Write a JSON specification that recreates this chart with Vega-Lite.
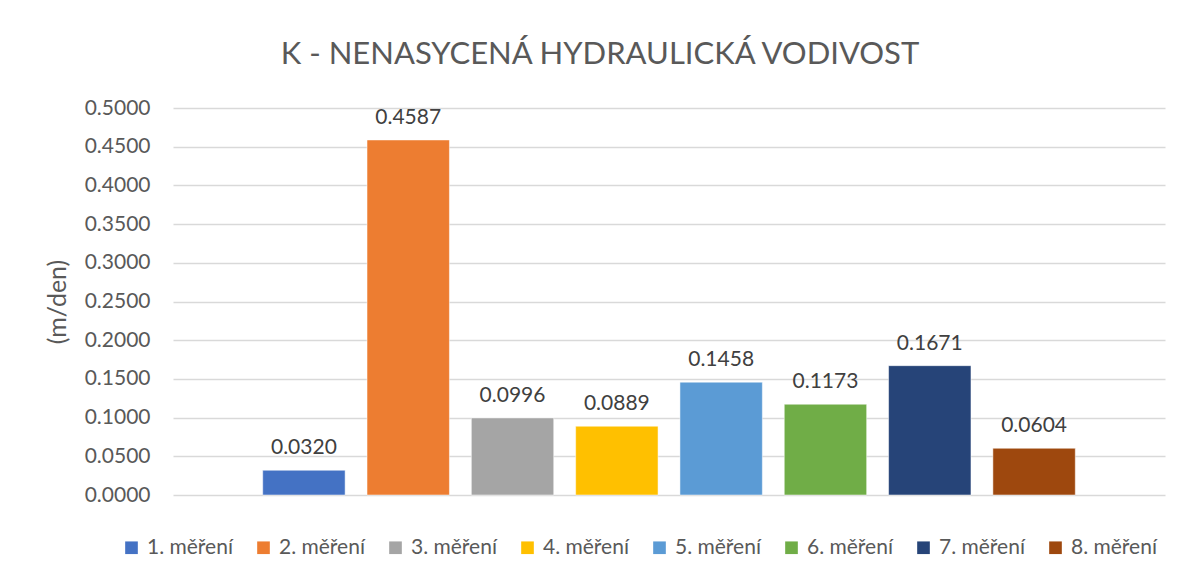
{
  "$schema": "https://vega.github.io/schema/vega-lite/v6.json",
  "autosize": {"type": "none"},
  "width": 992,
  "height": 387,
  "padding": {"left": 173, "top": 108, "right": 21, "bottom": 86},
  "background": "white",
  "title": {
    "text": "K - NENASYCENÁ HYDRAULICKÁ VODIVOST",
    "font": "Lato",
    "fontSize": 31,
    "fontWeight": "normal",
    "color": "#595959",
    "anchor": "middle",
    "dx": -69,
    "offset": 26
  },
  "data": {
    "values": [
      {"serie": "1. měření", "k": 0.0320},
      {"serie": "2. měření", "k": 0.4587},
      {"serie": "3. měření", "k": 0.0996},
      {"serie": "4. měření", "k": 0.0889},
      {"serie": "5. měření", "k": 0.1458},
      {"serie": "6. měření", "k": 0.1173},
      {"serie": "7. měření", "k": 0.1671},
      {"serie": "8. měření", "k": 0.0604}
    ]
  },
  "encoding": {
    "x": {
      "field": "serie",
      "type": "nominal",
      "sort": null,
      "axis": null,
      "scale": {"paddingInner": 0.21, "paddingOuter": 0.86}
    },
    "y": {
      "field": "k",
      "type": "quantitative",
      "scale": {"domain": [0, 0.5], "nice": false},
      "axis": {
        "title": "(m/den)",
        "values": [0, 0.05, 0.1, 0.15, 0.2, 0.25, 0.3, 0.35, 0.4, 0.45, 0.5],
        "format": ".4f",
        "domain": false,
        "ticks": false,
        "labelFont": "Lato",
        "labelFontSize": 21,
        "labelColor": "#595959",
        "labelPadding": 23,
        "titleFont": "Lato",
        "titleFontSize": 25,
        "titleFontWeight": "normal",
        "titleColor": "#595959",
        "titlePadding": 14,
        "gridColor": "#d9d9d9",
        "gridWidth": 1.3
      }
    }
  },
  "layer": [
    {
      "mark": {"type": "bar", "stroke": "white", "strokeWidth": 0.5},
      "encoding": {
        "color": {
          "field": "serie",
          "type": "nominal",
          "sort": null,
          "scale": {
            "range": ["#4472C4", "#ED7D31", "#A5A5A5", "#FFC000", "#5B9BD5", "#70AD47", "#264478", "#9E480E"]
          },
          "legend": {
            "title": null,
            "orient": "none",
            "direction": "horizontal",
            "legendX": -52,
            "legendY": 429,
            "symbolType": "square",
            "symbolSize": 160,
            "symbolStrokeWidth": 0,
            "symbolOpacity": 1,
            "labelFont": "Lato",
            "labelFontSize": 21,
            "labelColor": "#595959",
            "labelOffset": 5,
            "columnPadding": 20
          }
        }
      }
    },
    {
      "mark": {
        "type": "text",
        "baseline": "alphabetic",
        "dy": -16,
        "font": "Lato",
        "fontSize": 21,
        "color": "#404040"
      },
      "encoding": {
        "text": {"field": "k", "type": "quantitative", "format": ".4f"}
      }
    }
  ],
  "config": {"view": {"stroke": null}}
}
